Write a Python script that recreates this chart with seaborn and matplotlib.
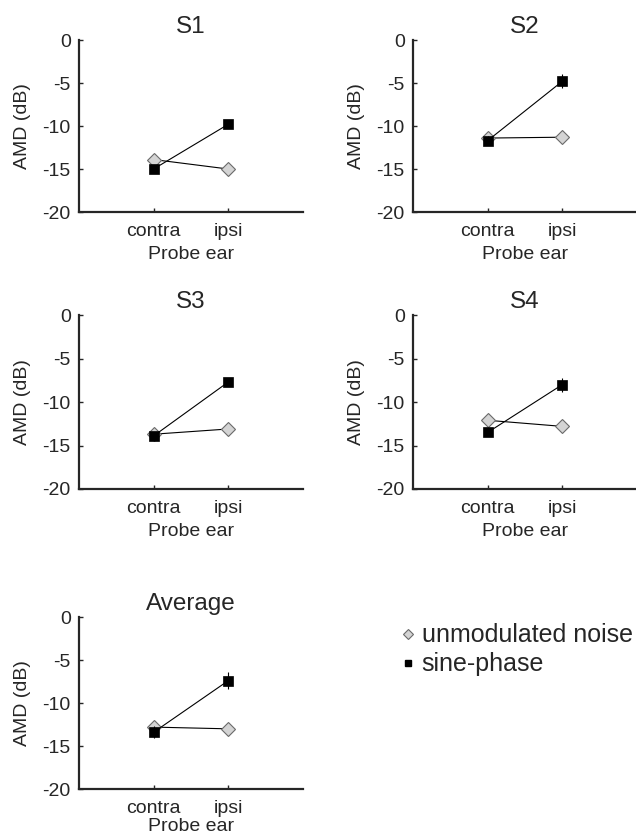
import numpy as np
import pandas as pd
import seaborn as sns
import matplotlib.pyplot as plt
from matplotlib.lines import Line2D

subjects = ["S1", "S2", "S3", "S4", "Average"]
probe_ears = ["contra", "ipsi"]
unmod_vals = [[-13.9, -15.0], [-11.4, -11.3], [-13.7, -13.1], [-12.1, -12.8], [-12.8, -13.0]]
unmod_err = [[0.2, 0.2], [0.3, 0.3], [0.4, 0.3], [0.3, 0.3], [0.4, 0.3]]
sine_vals = [[-15.0, -9.8], [-11.7, -4.8], [-13.9, -7.7], [-13.5, -8.0], [-13.4, -7.4]]
sine_err = [[0.3, 0.4], [0.5, 0.8], [0.5, 0.3], [0.3, 0.8], [0.7, 1.0]]
series_names = ["unmodulated noise", "sine-phase"]

rows = []
for i, s in enumerate(subjects):
    for j, ear in enumerate(probe_ears):
        rows.append(dict(subject=s, pos=j, ear=ear, series=series_names[0],
                         amd=unmod_vals[i][j], err=unmod_err[i][j]))
        rows.append(dict(subject=s, pos=j, ear=ear, series=series_names[1],
                         amd=sine_vals[i][j], err=sine_err[i][j]))
df = pd.DataFrame(rows)

sns.set_style("ticks")
plt.rcParams['font.family'] = ['Liberation Sans', 'DejaVu Sans']

fig = plt.figure(figsize=(6.36, 8.36), dpi=100)

# axes boxes in figure fractions (left, bottom, width, height)
boxes = [
    (0.1242, 0.7464, 0.352, 0.2057),
    (0.6494, 0.7464, 0.352, 0.2057),
    (0.1242, 0.4151, 0.352, 0.2080),
    (0.6494, 0.4151, 0.352, 0.2080),
    (0.1242, 0.0562, 0.352, 0.2057),
]

styles = {
    series_names[0]: dict(marker="D", markersize=7.0, markerfacecolor="#d4d4d4",
                          markeredgecolor="#6a6a6a", markeredgewidth=0.8),
    series_names[1]: dict(marker="s", markersize=6.5, markerfacecolor="black",
                          markeredgecolor="black", markeredgewidth=0.5),
}

for s, box in zip(subjects, boxes):
    ax = fig.add_axes(box)
    sub = df[df.subject == s]
    for k, name in enumerate(series_names):
        d = sub[sub.series == name]
        ax.errorbar(d.pos, d.amd, yerr=d.err, fmt="none", ecolor="black",
                    elinewidth=0.8, capsize=0, zorder=2 + k)
        sns.lineplot(data=d, x="pos", y="amd", color="black", lw=0.8,
                     ax=ax, zorder=2 + k, **styles[name])
    ax.set_xlim(-1, 2)
    ax.set_ylim(-20, 0)
    ax.set_xticks(range(len(probe_ears)))
    ax.set_xticklabels(probe_ears)
    ax.set_yticks([0, -5, -10, -15, -20])
    ax.set_yticklabels(["0", "-5", "-10", "-15", "-20"])
    ax.tick_params(direction="in", length=3, width=1, labelsize=14)
    ax.tick_params(axis="x", pad=8)
    ax.tick_params(axis="y", pad=6)
    # bottom panel sits at the figure edge, keep its label inside
    ax.set_xlabel("Probe ear", fontsize=14, labelpad=4 if s != "Average" else 0.5)
    ax.set_ylabel("AMD (dB)", fontsize=14, labelpad=8)
    ax.set_title(s, fontsize=17.5, pad=5)
    sns.despine(ax=ax)
    for sp in ["left", "bottom"]:
        ax.spines[sp].set_linewidth(1.6)
    ax.spines["left"].set_capstyle("projecting")

handles = [
    Line2D([], [], linestyle="none", marker="D", markersize=5, markerfacecolor="#d4d4d4",
           markeredgecolor="#6a6a6a", markeredgewidth=0.8),
    Line2D([], [], linestyle="none", marker="s", markersize=5, color="black"),
]
fig.legend(handles, series_names, loc="center left", bbox_to_anchor=(398 / 636, 0.2225),
           frameon=False, fontsize=18, handlelength=0.8, handletextpad=0.15,
           borderpad=0, borderaxespad=0, labelspacing=0.2)

fig.savefig("out.png", dpi=100)
